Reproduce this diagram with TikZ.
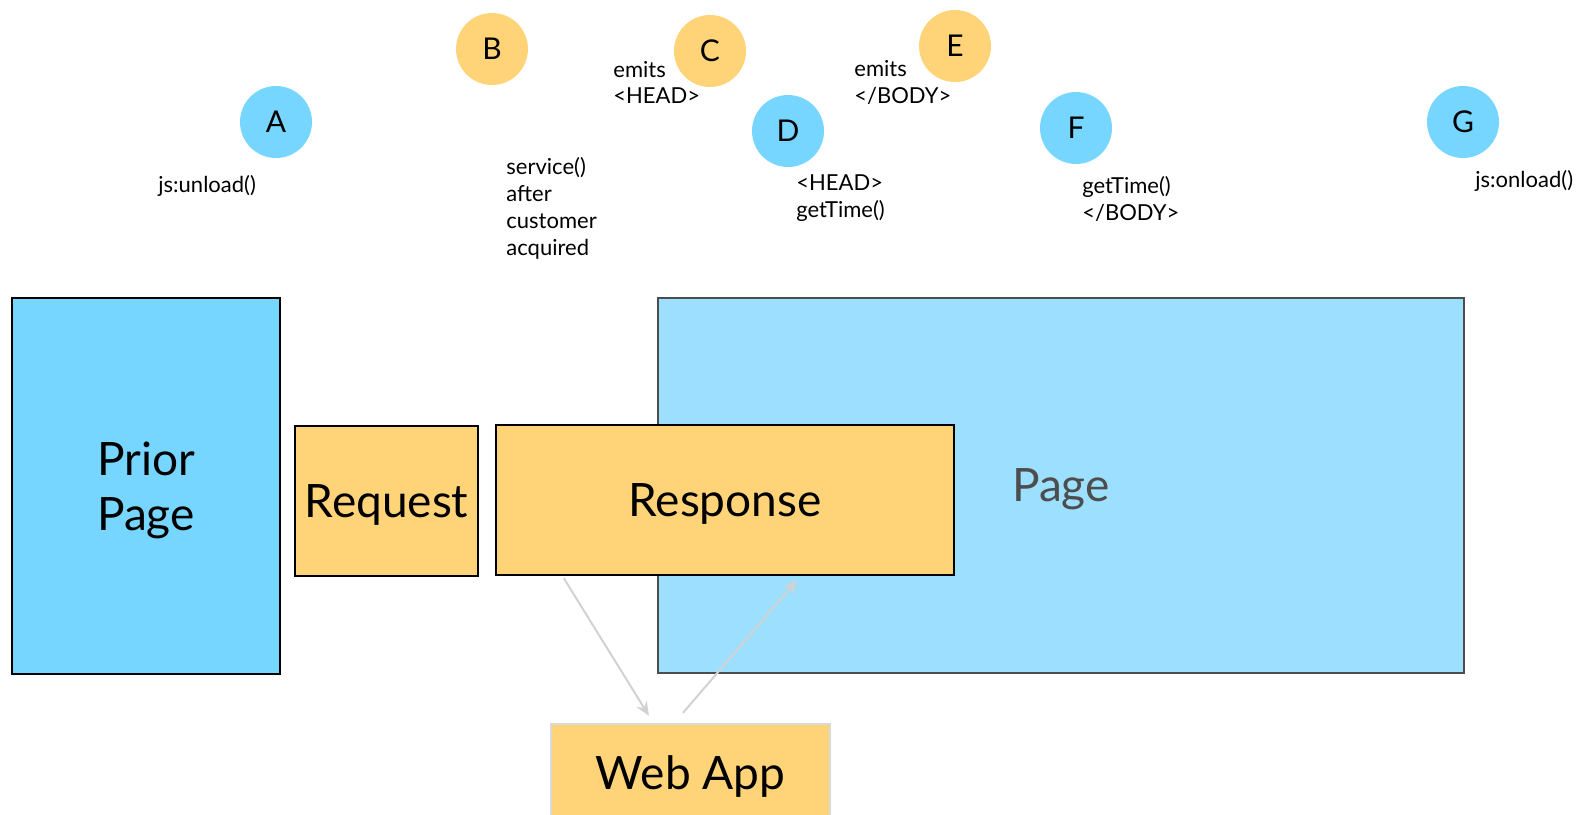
\documentclass[tikz,border=0pt]{standalone}
\usepackage{fontspec}
\setmainfont{Lato}
\usetikzlibrary{arrows.meta}
\definecolor{skyblue}{HTML}{76D6FF}
\definecolor{paleblue}{HTML}{9DDFFF}
\definecolor{cantaloupe}{HTML}{FFD479}
\definecolor{flowgray}{HTML}{D2D2D2}
\definecolor{boxgray}{HTML}{D9D9D9}
\definecolor{pagegray}{HTML}{4D4D4D}
\begin{document}
\begin{tikzpicture}[x=0.5pt,y=-0.5pt]
\tikzstyle{bigbox} = [rectangle, draw=black, line width=1.2pt, font=\fontsize{23}{27.5}\selectfont, align=center, inner sep=0pt, text depth=0pt]
\tikzstyle{dot} = [circle, minimum size=36pt, inner sep=0pt, font=\fontsize{15}{17}\selectfont]
\tikzstyle{note} = [anchor=west, inner sep=0pt, align=left, font=\fontsize{11}{13.4}\selectfont]
\tikzstyle{flow} = [draw=flowgray, line width=1pt, -{Stealth[length=7pt,width=6pt]}]
\useasboundingbox (0,0) rectangle (1577,814);
% boxes
\node (page) [bigbox, draw=pagegray, fill=paleblue, text=pagegray, minimum width=403pt, minimum height=187.5pt] at (1061,485.5) {Page};
\node (prior) [bigbox, fill=skyblue, minimum width=134pt, minimum height=188pt] at (146,486) {Prior\\Page};
\node (req) [bigbox, fill=cantaloupe, minimum width=91.5pt, minimum height=75pt] at (386.5,501) {Request};
\node (resp) [bigbox, fill=cantaloupe, minimum width=229pt, minimum height=75pt] at (725,500) {Response};
\node (web) [bigbox, draw=boxgray, fill=cantaloupe, minimum width=139.5pt, minimum height=49pt] at (690.5,773) {Web App};
% events
\node (A) [dot, fill=skyblue] at (276,122) {A};
\node (B) [dot, fill=cantaloupe] at (492,49) {B};
\node (C) [dot, fill=cantaloupe] at (710,51) {C};
\node (D) [dot, fill=skyblue] at (788,131) {D};
\node (E) [dot, fill=cantaloupe] at (955,46) {E};
\node (F) [dot, fill=skyblue] at (1076,128) {F};
\node (G) [dot, fill=skyblue] at (1463,122) {G};
\node (Anote) [note] at (158,186) {js:unload()};
\node (Bnote) [note] at (506,208.5) {service()\\after\\customer\\acquired};
\node (Cnote) [note] at (613,82.5) {emits\\<HEAD>};
\node (Dnote) [note] at (796,198.5) {<HEAD>\\getTime()};
\node (Enote) [note] at (854,82.5) {emits\\</BODY>};
\node (Fnote) [note] at (1082,199) {getTime()\\</BODY>};
\node (Gnote) [note] at (1475,181) {js:onload()};
% round trip
\draw [flow] ([xshift=34.5pt,yshift=-1pt]resp.south west) -- ([xshift=-20.75pt,yshift=3.5pt]web.north);
\draw [flow] ([xshift=-3.75pt,yshift=5pt]web.north) -- ([xshift=36pt,yshift=-2pt]resp.south);
\end{tikzpicture}
\end{document}
